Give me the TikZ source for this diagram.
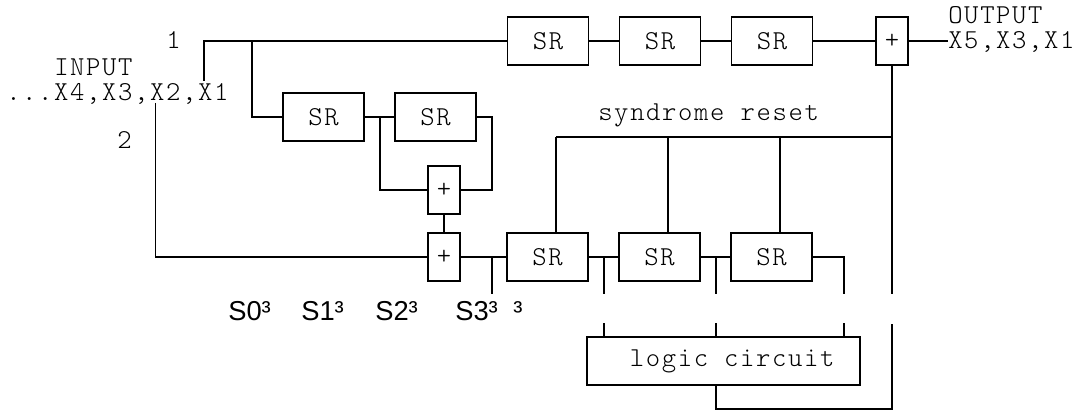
\documentclass[tikz,border=0pt]{standalone}
\usepackage{fontspec}
\setmonofont{Latin Modern Mono Light}[LetterSpace=6]
\setsansfont{Liberation Sans}
\tikzset{
  srbox/.style={draw, line width=1.25pt, minimum width=60.75pt, minimum height=36pt, inner sep=0pt, outer sep=0pt, font=\ttfamily\fontsize{20.5}{20.5}\selectfont},
  addbox/.style={srbox, minimum width=24pt},
  wire/.style={line width=1.25pt, line join=miter},
  monotext/.style={anchor=base west, inner sep=0pt, font=\ttfamily\fontsize{20.5}{20.5}\selectfont},
  subtext/.style={anchor=base west, inner sep=0pt, font=\sffamily\fontsize{20.5}{20.5}\selectfont},
}
\begin{document}
\begin{tikzpicture}[x=0.75pt,y=-0.75pt]
  \useasboundingbox (0,0) rectangle (1078,410);

  \node[srbox] (sr1) at (548,41) {SR};
  \node[srbox] (sr2) at (660,41) {SR};
  \node[srbox] (sr3) at (772,41) {SR};
  \node[addbox] (add1) at (892,41) {+};

  \node[srbox] (sr4) at (323.5,117) {SR};
  \node[srbox] (sr5) at (435.5,117) {SR};
  \node[addbox] (add2) at (444,190) {+};
  \node[addbox] (add3) at (444,257) {+};

  \node[srbox] (sr6) at (547.5,257) {SR};
  \node[srbox] (sr7) at (659.5,257) {SR};
  \node[srbox] (sr8) at (771.5,257) {SR};
  \node[srbox, minimum width=204.75pt] (logic) at (723.5,361) {\hspace{13pt}logic circuit};

  \node[monotext] (one) at (166,49) {1};
  \node[monotext] (input) at (54,75) {INPUT};
  \node[monotext] (stream) at (6,100) {...X4,X3,X2,X1};
  \node[monotext] (two) at (117,148) {2};
  \node[monotext] (output) at (948,24) {OUTPUT};
  \node[monotext] (outstream) at (948,49) {X5,X3,X1};
  \node[monotext] (reset) at (598,120) {syndrome reset};

  \node[subtext] (s0) at (228,320) {S0³};
  \node[subtext] (s1) at (301,320) {S1³};
  \node[subtext] (s2) at (375,320) {S2³};
  \node[subtext] (s3) at (455,320) {S3³};
  \node[subtext] (s4) at (513,320) {³};

  \coordinate (x1) at (204,81);
  \coordinate (x2) at (155.5,103);
  \coordinate (tap1) at (252,41);
  \coordinate (out) at (948,41);
  \coordinate (loopl) at (380,117);
  \coordinate (loopr) at (492,117);
  \coordinate (s3end) at (492,294);
  \coordinate (t1) at (492,257);
  \coordinate (t2) at (604,257);
  \coordinate (t2end) at (604,294);
  \coordinate (t3) at (716,257);
  \coordinate (t3end) at (716,294);
  \coordinate (t4end) at (844,294);
  \coordinate (l1) at (604,337);
  \coordinate (l1end) at (604,323);
  \coordinate (l2) at (716,337);
  \coordinate (l2end) at (716,323);
  \coordinate (l3) at (844,337);
  \coordinate (l3end) at (844,323);
  \coordinate (fb) at (716,385);
  \coordinate (fbend) at (892,324);
  \coordinate (fbdown) at (892,294);
  \coordinate (r1) at (556,137);
  \coordinate (r2) at (668,137);
  \coordinate (r3) at (780,137);
  \coordinate (r4) at (892,137);

  % top row
  \draw[wire] (x1) |- (sr1.west);
  \draw[wire] (sr1) -- (sr2);
  \draw[wire] (sr2) -- (sr3);
  \draw[wire] (sr3) -- (add1);
  \draw[wire] (add1) -- (out);
  \draw[wire] (add1.south) -- (fbdown);

  % middle
  \draw[wire] (tap1) |- (sr4.west);
  \draw[wire] (sr4) -- (sr5);
  \draw[wire] (loopl) |- (add2.west);
  \draw[wire] (sr5.east) -| (loopr) |- (add2.east);
  \draw[wire] (add2) -- (add3);

  % bottom row
  \draw[wire] (x2) |- (add3.west);
  \draw[wire] (add3) -- (sr6);
  \draw[wire] (sr6) -- (sr7);
  \draw[wire] (sr7) -- (sr8);
  \draw[wire] (t1) -- (s3end);
  \draw[wire] (t2) -- (t2end);
  \draw[wire] (t3) -- (t3end);
  \draw[wire] (sr8.east) -| (t4end);

  % syndrome reset
  \draw[wire] (r1) -- (r4);
  \draw[wire] (r1) -- (r1 |- sr6.north);
  \draw[wire] (r2) -- (r2 |- sr7.north);
  \draw[wire] (r3) -- (r3 |- sr8.north);

  % logic circuit
  \draw[wire] (l1end) -- (l1);
  \draw[wire] (l2end) -- (l2);
  \draw[wire] (l3end) -- (l3);
  \draw[wire] (fb) -- (716,409) -| (fbend);
\end{tikzpicture}
\end{document}
